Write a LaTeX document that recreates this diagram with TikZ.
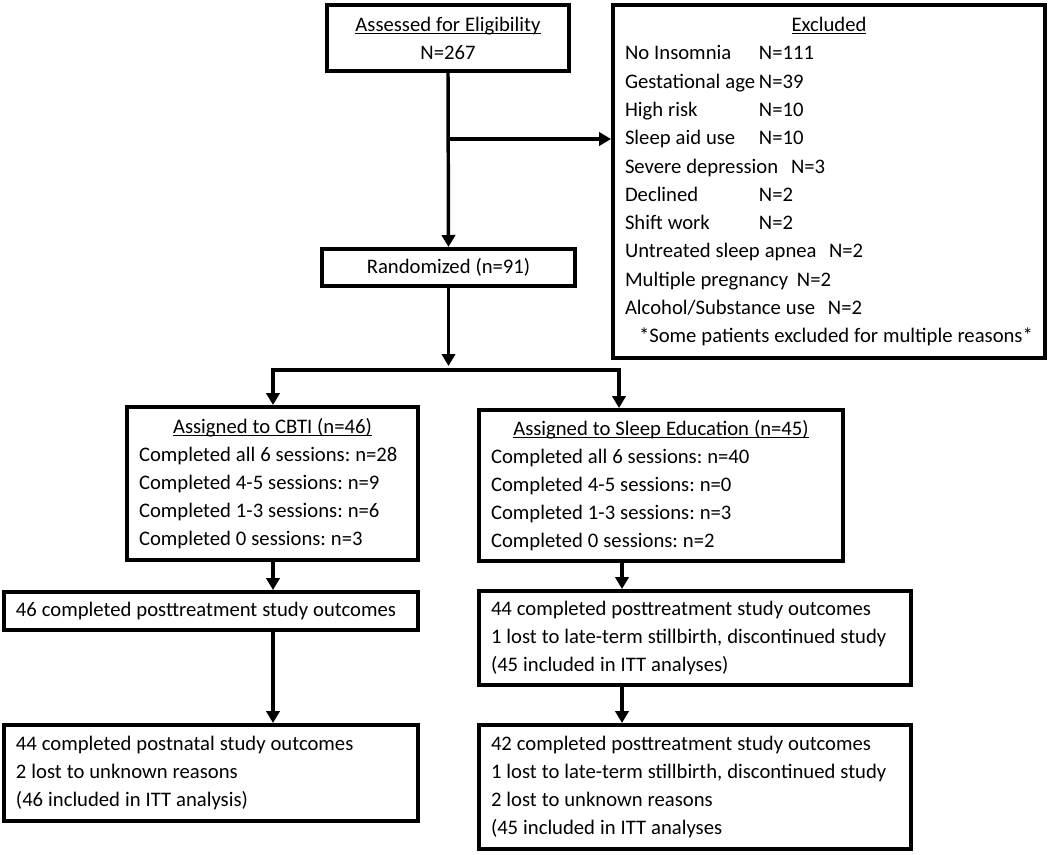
\documentclass[tikz,border=0pt]{standalone}
\usepackage{fontspec}
\setmainfont{Carlito}
\usetikzlibrary{arrows.meta}
\frenchspacing
\newcommand\ulx[1]{\leavevmode\setbox0\hbox{#1}\rlap{\rule[-2pt]{\wd0}{0.9pt}}\box0}
\newcommand\ctl[1]{\makebox[\linewidth][c]{\ulx{#1}}}
\newcommand\boxfont{\fontsize{15.5pt}{21pt}\selectfont\frenchspacing}
\newcommand\tightsp{\spaceskip 0.24em\relax\xspaceskip 0.24em\relax}
\tikzset{
  box/.style={draw, line width=3pt, rectangle, inner xsep=9pt, inner ysep=0pt,
    align=left, anchor=center, font=\boxfont, execute at begin node=\tightsp},
  cbox/.style={box, align=center},
  conn/.style={line width=2.6pt},
  arr/.style={conn, -{Triangle[width=10pt,length=9pt]}},
  darr/.style={conn, {Triangle[width=10pt,length=9pt]}-{Triangle[width=10pt,length=9pt]}}
}
\begin{document}
\begin{tikzpicture}[x=0.75pt,y=-0.75pt]
\fill[white] (0,0) rectangle (1050,854);
\useasboundingbox (0,0) rectangle (1050,854);

\node[cbox, minimum width=181.5pt, minimum height=49.5pt] (assess) at (448,38)
  {\ulx{Assessed for Eligibility}\\N=267};

\node[box, minimum width=324pt, minimum height=264.75pt, text width=306pt] (excl) at (829,181.5)
  {\fontsize{15.5pt}{21.2pt}\selectfont\tightsp
   \ctl{Excluded}\\
   \makebox[100.5pt][l]{No Insomnia}N=111\\
   \makebox[100.5pt][l]{Gestational age}N=39\\
   \makebox[100.5pt][l]{High risk}N=10\\
   \makebox[100.5pt][l]{Sleep aid use}N=10\\
   \makebox[124.5pt][l]{Severe depression}N=3\\
   \makebox[100.5pt][l]{Declined}N=2\\
   \makebox[100.5pt][l]{Shift work}N=2\\
   \makebox[153pt][l]{Untreated sleep apnea}N=2\\
   \makebox[129pt][l]{Multiple pregnancy}N=2\\
   \makebox[152.25pt][l]{Alcohol/Substance use}N=2\\
   \mbox{\hspace*{10.5pt}*Some patients excluded for multiple reasons*}};

\node[cbox, minimum width=189.75pt, minimum height=27.75pt] (rand) at (448.5,267.5)
  {Randomized (n=91)};

\node[box, minimum width=218.25pt, minimum height=114.75pt, text width=200.25pt] (cbti) at (272.5,483.5)
  {\ctl{Assigned to CBTI (n=46)}\\
   \mbox{Completed all 6 sessions: n=28}\\
   \mbox{Completed 4-5 sessions: n=9}\\
   \mbox{Completed 1-3 sessions: n=6}\\
   \mbox{Completed 0 sessions: n=3}};

\node[box, minimum width=273pt, minimum height=113.25pt, text width=255pt] (sleep) at (661,485.5)
  {\ctl{Assigned to Sleep Education (n=45)}\\
   Completed all 6 sessions: n=40\\
   Completed 4-5 sessions: n=0\\
   Completed 1-3 sessions: n=3\\
   Completed 0 sessions: n=2};

\node[box, minimum width=310.5pt, minimum height=28.5pt, text width=292.5pt] (lpost) at (211,611)
  {\mbox{46 completed posttreatment study outcomes}};

\node[box, minimum width=324pt, minimum height=70.5pt, text width=306pt] (rpost) at (695,638)
  {\mbox{44 completed posttreatment study outcomes}\\
   \mbox{1 lost to late-term stillbirth, discontinued study}\\
   (45 included in ITT analyses)};

\node[box, minimum width=310.5pt, minimum height=72pt, text width=292.5pt] (lfinal) at (211,773)
  {44 completed postnatal study outcomes\\
   2 lost to unknown reasons\\
   (46 included in ITT analysis)};

\node[box, minimum width=324pt, minimum height=93pt, text width=306pt] (rfinal) at (695,787)
  {\mbox{42 completed posttreatment study outcomes}\\
   \mbox{1 lost to late-term stillbirth, discontinued study}\\
   2 lost to unknown reasons\\
   (45 included in ITT analyses};

% connectors
\coordinate (j1) at (448,139);
\coordinate (split) at (448.5,370);
\coordinate (bl) at (273,370);
\coordinate (br) at (619,370);
\coordinate (lx) at (273,0);
\coordinate (rx) at (622,0);

\draw[arr] (assess.south) -- (rand.north);
\draw[arr] (j1) -- (j1 -| excl.west);
\draw[arr, shorten >=3pt] (rand.south) -- (split);
\draw[darr] (cbti.north -| bl) -- (bl) -- (br) -- (sleep.north -| br);
\draw[arr] (cbti.south -| lx) -- (lpost.north -| lx);
\draw[arr] (lpost.south -| lx) -- (lfinal.north -| lx);
\draw[arr] (sleep.south -| rx) -- (rpost.north -| rx);
\draw[arr] (rpost.south -| rx) -- (rfinal.north -| rx);
\end{tikzpicture}
\end{document}
